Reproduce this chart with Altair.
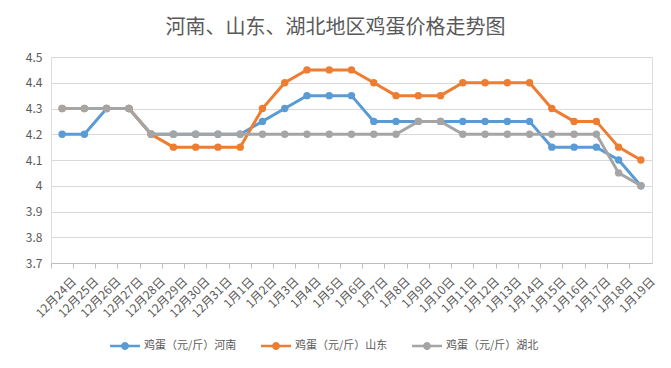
import altair as alt
import pandas as pd

dates = ["12月24日", "12月25日", "12月26日", "12月27日", "12月28日", "12月29日", "12月30日", "12月31日",
         "1月1日", "1月2日", "1月3日", "1月4日", "1月5日", "1月6日", "1月7日", "1月8日", "1月9日",
         "1月10日", "1月11日", "1月12日", "1月13日", "1月14日", "1月15日", "1月16日", "1月17日",
         "1月18日", "1月19日"]

henan = [4.2, 4.2, 4.3, 4.3, 4.2, 4.2, 4.2, 4.2,
         4.2, 4.25, 4.3, 4.35, 4.35, 4.35, 4.25, 4.25, 4.25,
         4.25, 4.25, 4.25, 4.25, 4.25, 4.15, 4.15, 4.15,
         4.1, 4.0]
shandong = [4.3, 4.3, 4.3, 4.3, 4.2, 4.15, 4.15, 4.15,
            4.15, 4.3, 4.4, 4.45, 4.45, 4.45, 4.4, 4.35, 4.35,
            4.35, 4.4, 4.4, 4.4, 4.4, 4.3, 4.25, 4.25,
            4.15, 4.1]
hubei = [4.3, 4.3, 4.3, 4.3, 4.2, 4.2, 4.2, 4.2,
         4.2, 4.2, 4.2, 4.2, 4.2, 4.2, 4.2, 4.2, 4.25,
         4.25, 4.2, 4.2, 4.2, 4.2, 4.2, 4.2, 4.2,
         4.05, 4.0]

series_names = ["鸡蛋（元/斤）河南", "鸡蛋（元/斤）山东", "鸡蛋（元/斤）湖北"]
series_colors = ["#5B9BD5", "#ED7D31", "#A5A5A5"]
y_ticks = [3.7, 3.8, 3.9, 4.0, 4.1, 4.2, 4.3, 4.4, 4.5]

rows = []
for name, vals in zip(series_names, [henan, shandong, hubei]):
    for d, v in zip(dates, vals):
        rows.append({"date": d, "price": v, "series": name})
df = pd.DataFrame(rows)

FONT = "Noto Sans CJK SC"
TXT = "#595959"

base = alt.Chart(df).encode(
    x=alt.X("date:N", sort=dates,
            scale=alt.Scale(type="band", domain=dates, paddingInner=0, paddingOuter=0),
            axis=alt.Axis(title=None, labelAngle=-45, labelAlign="right", labelBaseline="middle",
                          bandPosition=0, labelOffset=12, tickSize=5, tickColor="#BFBFBF",
                          domainColor="#BFBFBF", labelColor=TXT, labelFontSize=12,
                          labelFont=FONT, labelPadding=11, grid=False)),
    y=alt.Y("price:Q", scale=alt.Scale(domain=[3.7, 4.5], nice=False, zero=False),
            axis=alt.Axis(title=None, values=y_ticks, format=".1~f", ticks=False, domain=False,
                          gridColor="#D9D9D9", labelColor=TXT, labelFontSize=12,
                          labelFont=FONT, labelPadding=9)),
    color=alt.Color("series:N",
                    scale=alt.Scale(domain=series_names, range=series_colors),
                    legend=alt.Legend(title=None, orient="none", direction="horizontal",
                                      legendX=64, legendY=279,
                                      symbolType="M-1.5,-0.13H1.5V0.13H-1.5Z M0.4,0A0.4,0.4 0 1,1 -0.4,0A0.4,0.4 0 1,1 0.4,0Z",
                                      symbolSize=400, symbolStrokeWidth=0,
                                      labelFont=FONT, labelFontSize=11, labelColor=TXT,
                                      labelOffset=9, columnPadding=24)),
)

layers = []
for name in series_names:
    layers.append(
        base.transform_filter(alt.datum.series == name).mark_line(
            strokeWidth=3,
            point=alt.OverlayMarkDef(filled=True, size=55, opacity=1),
        )
    )

chart = alt.layer(*layers).properties(
    width=601, height=206,
    title=alt.TitleParams("河南、山东、湖北地区鸡蛋价格走势图", font=FONT, fontSize=20,
                          fontWeight="normal", color=TXT, anchor="middle", dx=-16, offset=13),
    autosize=alt.AutoSizeParams(type="none"),
    padding={"left": 43, "top": 49, "right": 11, "bottom": 97},
).configure_view(stroke=None).configure(background="white")

chart.save("out.html", embed_options={"renderer": "svg", "actions": False})
